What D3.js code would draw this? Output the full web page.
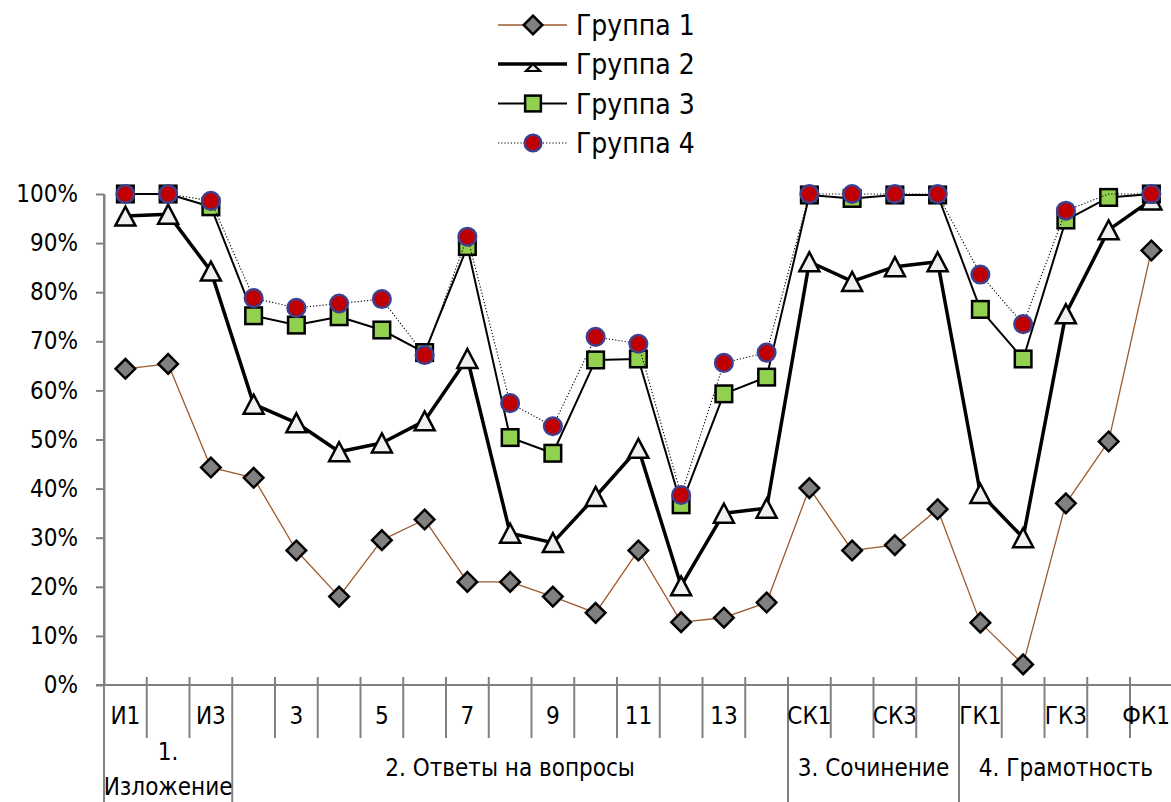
<!DOCTYPE html>
<html>
<head>
<meta charset="utf-8">
<script src="https://cdn.jsdelivr.net/npm/d3@7"></script>
<style>
  html, body { margin: 0; padding: 0; background: #fff; overflow: hidden; }
  svg { display: block; }
  text { font-family: "DejaVu Sans Condensed", "DejaVu Sans", sans-serif; font-stretch: condensed; fill: #000; }
</style>
</head>
<body>
<svg id="chart" width="1171" height="802"></svg>
<script>
// ---------- data ----------
const categories = ["И1","И2","И3","2","3","4","5","6","7","8","9","10","11","12","13","14",
                    "СК1","СК2","СК3","СК4","ГК1","ГК2","ГК3","ГК4","ФК1"];
const shownLabels = ["И1","И3","3","5","7","9","11","13","СК1","СК3","ГК1","ГК3","ФК1"];
const groupNames = [["1.","Изложение"],["2. Ответы на вопросы"],["3. Сочинение"],["4. Грамотность"]];
const groupSizes = [3, 13, 4, 5];
const seriesNames = ["Группа 1","Группа 2","Группа 3","Группа 4"];

const group1 = [64.4,65.4,44.3,42.2,27.4,18.0,29.5,33.7,21.0,21.0,18.0,14.7,27.4,12.8,13.7,16.8,40.1,27.4,28.5,35.8,12.7,4.2,37.0,49.6,88.5];
const group2 = [95.5,95.9,84.3,57.2,53.4,47.5,49.3,53.8,66.5,30.9,29.0,38.4,48.2,20.2,35.0,36.0,86.2,82.2,85.2,86.2,39.0,30.0,75.6,92.7,98.8];
const group3 = [100,100,97.4,75.2,73.3,75.0,72.3,67.7,89.3,50.4,47.2,66.2,66.4,36.7,59.3,62.7,99.8,99.1,99.8,99.8,76.5,66.4,94.7,99.3,100];
const group4 = [100,100,98.6,78.8,76.8,77.7,78.6,67.2,91.3,57.4,52.7,70.9,69.5,38.7,65.6,67.7,100,100,100,100,83.6,73.5,96.6,100,100];
const group4NoMarker = ["ГК4"];
const yTicks = [0,10,20,30,40,50,60,70,80,90,100];

// ---------- layout ----------
const W = 1171;
const svg = d3.select("#chart");
const plotLeft = 104, plotTop = 194, plotBottom = 685;
const step = 42.75;
const plotRight = plotLeft + step * categories.length;
const axisColor = "#808080";

const x = d3.scaleBand().domain(categories).range([plotLeft, plotRight]).paddingInner(0).paddingOuter(0);
const y = d3.scaleLinear().domain([0, 100]).range([plotBottom, plotTop]);
const cx = c => x(c) + x.bandwidth() / 2;

// ---------- y axis ----------
const yAxis = d3.axisLeft(y).tickValues(yTicks).tickFormat(d => d + "%").tickSize(8).tickSizeOuter(0).tickPadding(18);
const gy = svg.append("g").attr("transform", `translate(${plotLeft},0)`).call(yAxis);
gy.select(".domain").attr("stroke", axisColor).attr("stroke-width", 2);
gy.selectAll(".tick line").attr("stroke", axisColor).attr("stroke-width", 2);
gy.selectAll(".tick text").attr("font-size", 24).attr("font-family", null).style("fill", "#000");

// ---------- category axis ----------
const gx = svg.append("g");
gx.append("line").attr("x1", plotLeft - 8).attr("x2", plotRight).attr("y1", plotBottom).attr("y2", plotBottom)
  .attr("stroke", axisColor).attr("stroke-width", 2);

const groupStarts = [];
let acc = 0;
groupSizes.forEach(s => { groupStarts.push(acc); acc += s; });
d3.range(categories.length + 1).forEach(i => {
  const bx = i < categories.length ? x(categories[i]) : plotRight;
  const isGroup = groupStarts.includes(i) || i === categories.length;
  gx.append("line").attr("x1", bx).attr("x2", bx)
    .attr("y1", i === 0 ? plotTop : plotBottom - 8)
    .attr("y2", isGroup ? 802 : 738)
    .attr("stroke", axisColor).attr("stroke-width", 2);
});

gx.selectAll("text.cat").data(categories.filter(c => shownLabels.includes(c))).join("text")
  .attr("class", "cat").attr("x", c => cx(c)).attr("y", 716).attr("dy", "0.35em")
  .attr("text-anchor", "middle").attr("font-size", 24).text(c => c)
  .each(function () {
    // keep the label inside the picture's right edge
    const bb = this.getBBox();
    if (bb.x + bb.width > W - 1) {
      d3.select(this).attr("x", +d3.select(this).attr("x") - (bb.x + bb.width - (W - 1)));
    }
  });

groupNames.forEach((lines, gi) => {
  const s = groupStarts[gi];
  const e = s + groupSizes[gi];
  const x0 = x(categories[s]);
  const x1 = e < categories.length ? x(categories[e]) : plotRight;
  const mid = (x0 + x1) / 2;
  const t = gx.append("text").attr("text-anchor", "middle").attr("font-size", 24);
  if (lines.length === 1) {
    t.append("tspan").attr("x", mid).attr("y", 768).attr("dy", "0.35em").text(lines[0]);
  } else {
    t.append("tspan").attr("x", mid).attr("y", 752).attr("dy", "0.35em").text(lines[0]);
    t.append("tspan").attr("x", mid).attr("y", 787).attr("dy", "0.35em").text(lines[1]);
  }
});

// ---------- markers ----------
function drawMarker(g, type, px, py, scale = 1) {
  if (type === "diamond") {
    const r = 9.8 * scale;
    g.append("path").attr("d", `M${px},${py - r}L${px + r},${py}L${px},${py + r}L${px - r},${py}Z`)
      .attr("fill", "#808080").attr("stroke", "#000").attr("stroke-width", 2.5);
  } else if (type === "triangle") {
    const w = 10 * scale, h = 9.5 * scale;
    g.append("path").attr("d", `M${px},${py - h}L${px + w},${py + h}L${px - w},${py + h}Z`)
      .attr("fill", "#f0f0f0").attr("stroke", "#000").attr("stroke-width", 2.5);
  } else if (type === "square") {
    const s = 8.3 * scale;
    g.append("rect").attr("x", px - s).attr("y", py - s).attr("width", 2 * s).attr("height", 2 * s)
      .attr("fill", "#92d050").attr("stroke", "#000").attr("stroke-width", 2.5);
  } else if (type === "circle") {
    g.append("circle").attr("cx", px).attr("cy", py).attr("r", 8.8 * scale)
      .attr("fill", "#c00000").attr("stroke", "#3f3f8f").attr("stroke-width", 2.5);
  }
}

const seriesStyles = [
  { values: group1, stroke: "#9c5a2c", width: 1.3, dash: null, marker: "diamond" },
  { values: group2, stroke: "#000", width: 3.5, dash: null, marker: "triangle" },
  { values: group3, stroke: "#000", width: 2, dash: null, marker: "square" },
  { values: group4, stroke: "#000", width: 1.1, dash: "1.2,2", marker: "circle", noMarker: group4NoMarker }
];

const line = d3.line().x((d, i) => cx(categories[i])).y(d => y(d));

const plot = svg.append("g");
seriesStyles.forEach(s => {
  const g = plot.append("g");
  g.append("path").datum(s.values).attr("d", line).attr("fill", "none")
    .attr("stroke", s.stroke).attr("stroke-width", s.width)
    .attr("stroke-dasharray", s.dash).attr("stroke-linejoin", "round");
  s.values.forEach((v, i) => {
    if (s.noMarker && s.noMarker.includes(categories[i])) return;
    drawMarker(g, s.marker, cx(categories[i]), y(v));
  });
});

// ---------- legend ----------
const legend = svg.append("g");
const legendRows = [25, 64, 103.5, 143];
seriesStyles.forEach((s, i) => {
  const ly = legendRows[i];
  const g = legend.append("g");
  g.append("line").attr("x1", 498).attr("x2", 567).attr("y1", ly).attr("y2", ly)
    .attr("stroke", s.stroke).attr("stroke-width", i === 1 ? 3.5 : (i === 2 ? 1.8 : s.width))
    .attr("stroke-dasharray", s.dash);
  if (s.marker === "triangle") {
    g.append("path").attr("d", `M533,${ly}L540,${ly + 7}L526,${ly + 7}Z`)
      .attr("fill", "#f0f0f0").attr("stroke", "#000").attr("stroke-width", 2.2);
  } else {
    drawMarker(g, s.marker, 533, ly, 0.95);
  }
  g.append("text").attr("x", 576).attr("y", ly).attr("dy", "0.36em").attr("font-size", 28).text(seriesNames[i]);
});
</script>
</body>
</html>
